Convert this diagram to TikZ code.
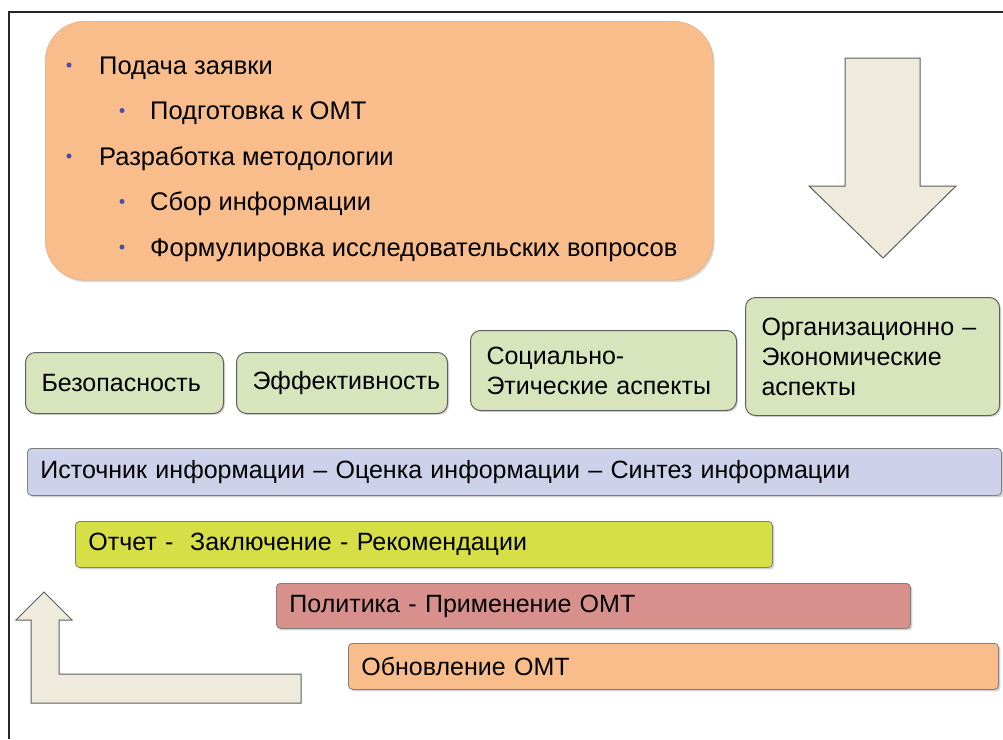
\documentclass[tikz,border=0pt]{standalone}
\usepackage{fontspec}
\setmainfont{Liberation Sans}
\usepackage{tikz}
\usetikzlibrary{shadows, positioning}
\definecolor{PeachFill}{HTML}{F9BD8B}
\definecolor{PeachLine}{HTML}{E0A57A}
\definecolor{SageFill}{HTML}{D7E4BC}
\definecolor{LavenderFill}{HTML}{CDD1EA}
\definecolor{LimeFill}{HTML}{D7DF46}
\definecolor{RoseFill}{HTML}{D8908D}
\definecolor{ArrowFill}{HTML}{EEEADC}
\definecolor{EdgeGray}{HTML}{5E5E5E}
\definecolor{DotBlue}{HTML}{4B4BA8}
\tikzset{
  % Box styles
  planbox/.style={rectangle, rounded corners=40pt, draw=PeachLine, fill=PeachFill, anchor=north west, drop shadow={shadow xshift=1.5pt, shadow yshift=-2pt, opacity=0.3}},
  aspectbox/.style={rectangle, rounded corners=10pt, draw=EdgeGray, line width=1pt, fill=SageFill, anchor=north west, align=left, inner xsep=16pt, font=\fontsize{25}{30}\selectfont, drop shadow={shadow xshift=1.5pt, shadow yshift=-1.5pt, opacity=0.3}},
  stagebar/.style={rectangle, rounded corners=4pt, draw=EdgeGray!80, line width=0.8pt, anchor=north west, align=left, inner xsep=13pt, font=\fontsize{25}{30}\selectfont, drop shadow={shadow xshift=2pt, shadow yshift=-2pt, opacity=0.35}},
  % Text styles
  itemtext/.style={anchor=base west, inner sep=0pt, font=\fontsize{25.5}{30}\selectfont},
  itemdot/.style={circle, fill=DotBlue, inner sep=0pt, minimum size=5pt},
  % Arrow styles
  bigarrow/.style={draw=EdgeGray, line width=1pt, fill=ArrowFill, line join=miter}
}
\begin{document}
\begin{tikzpicture}[x=1pt, y=-1pt]
  \useasboundingbox (0,0) rectangle (1003,739);

  % Frame
  \draw[line width=2.5pt, black!85] (1003,12) -- (9,12) -- (9,739);

  % Preparation block
  \node[planbox, minimum width=668, minimum height=259] (prep) at (45,21) {};
  \foreach \dx/\tx/\yb/\txt [count=\i] in {
      69/99/74/{Подача заявки},
      122/150/119.5/{Подготовка к ОМТ},
      69/99/165/{Разработка методологии},
      122/150/210.5/{Сбор информации},
      122/150/256/{Формулировка исследовательских вопросов}} {
    \node[itemdot] (dot\i) at (\dx,\yb-9) {};
    \node[itemtext] (item\i) at (\tx,\yb) {\txt};
  }

  % Down arrow
  \draw[bigarrow] (845,58) -- (920,58) -- (920,186) -- (956,186) -- (883,258)
    -- (809,186) -- (845,186) -- cycle;

  % Aspects
  \node[aspectbox, minimum width=198, minimum height=61, text width=166] (safety) at (25,352) {Безопасность};
  \node[aspectbox, minimum width=211, minimum height=61, text width=179] (effect) at (236,352) {Эффективность};
  \node[aspectbox, minimum width=266, minimum height=80, text width=234] (social) at (470,330) {Социально-\\Этические аспекты};
  \node[aspectbox, minimum width=254, minimum height=118, text width=222] (orgeco) at (745,297) {Организационно –\\Экономические\\аспекты};

  % Stages
  \node[stagebar, fill=LavenderFill, minimum width=974, minimum height=47, text width=948] (source) at (27,448) {Источник информации – Оценка информации – Синтез информации};
  \node[stagebar, fill=LimeFill, minimum width=697, minimum height=46, text width=671] (report) at (75,521) {Отчет -\ \ Заключение - Рекомендации};
  \node[stagebar, fill=RoseFill, minimum width=634, minimum height=45, text width=608] (policy) at (276,583) {Политика - Применение ОМТ};
  \node[stagebar, fill=PeachFill, minimum width=650, minimum height=46, text width=624] (update) at (348,643) {Обновление ОМТ};

  % Return arrow
  \draw[bigarrow] (44,592) -- (72,620) -- (59,620) -- (59,674) -- (301,674)
    -- (301,703) -- (31,703) -- (31,620) -- (16,620) -- cycle;
\end{tikzpicture}
\end{document}
